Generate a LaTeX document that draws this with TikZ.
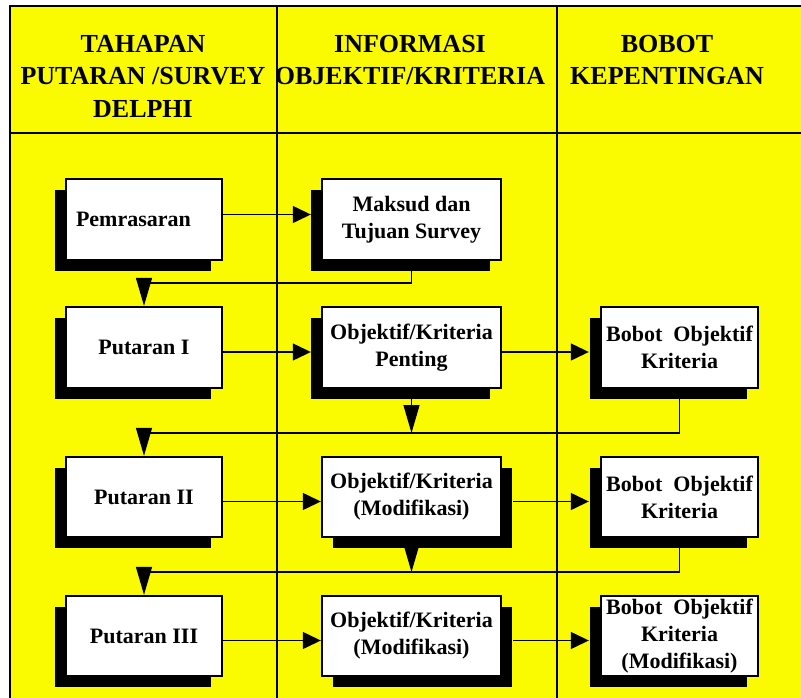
\documentclass[tikz,border=0pt]{standalone}
\usepackage{fontspec}
\setmainfont{Liberation Serif}
\usetikzlibrary{arrows.meta,shadows,calc}
\definecolor{sheet}{RGB}{250,250,0}
\newcommand{\hdfont}{\fontsize{26}{32.5}\selectfont\bfseries}
\newcommand{\bxfont}{\fontsize{22}{27}\selectfont\bfseries}
\pgfdeclarelayer{bg}
\pgfdeclarelayer{wires}
\pgfsetlayers{bg,wires,main}
\tikzset{
  grid/.style={line width=2.3pt, line cap=rect},
  head/.style={anchor=north, inner sep=0pt, align=center, font=\hdfont},
  box/.style={draw=black, line width=2.4pt, fill=white, inner xsep=2pt,
    inner ysep=0pt, align=center, font=\bxfont, minimum height=80pt},
  lshadow/.style={drop shadow={shadow xshift=-11pt, shadow yshift=-11pt,
    opacity=1, fill=black}},
  rshadow/.style={drop shadow={shadow xshift=11pt, shadow yshift=-11pt,
    opacity=1, fill=black}},
  wire/.style={line width=1.3pt},
  harrow/.style={wire, -{Triangle[length=18pt,width=17pt]}},
  varrow/.style={wire, -{Triangle[length=28pt,width=16pt]}},
}
\begin{document}
\begin{tikzpicture}[x=1pt,y=-1pt]
\useasboundingbox (0,0) rectangle (801,698);

% sheet and table rules
\begin{pgfonlayer}{bg}
  \fill[sheet] (10,6) rectangle (801,698);
  \draw[grid] (10,698) -- (10,6) -- (801,6);
  \draw[grid] (10,133) -- (801,133);
  \draw[grid] (277,6) -- (277,698);
  \draw[grid] (557,6) -- (557,698);
\end{pgfonlayer}

% column headings
\node[head] (h1) at (143,34.8) {TAHAPAN\\PUTARAN /SURVEY\\DELPHI};
\node[head] (h2) at (410,34.8) {INFORMASI\\OBJEKTIF/KRITERIA};
\node[head] (h3) at (667,34.8) {BOBOT\\KEPENTINGAN};

% rounds of the survey
\node[box, lshadow, minimum width=156pt, minimum height=81pt, text width=136pt, align=left]
  (pem) at (144,219.5) {Pemrasaran};
\node[box, lshadow, minimum width=156pt, minimum height=81pt] (put1) at (144,347.5) {Putaran I};
\node[box, lshadow, minimum width=156pt] (put2) at (144,497) {Putaran II};
\node[box, lshadow, minimum width=156pt] (put3) at (144,636) {Putaran III};

% objectives / criteria
\node[box, lshadow, minimum width=179pt, minimum height=81pt] (mak) at (411.5,219.5)
  {Maksud dan\\Tujuan Survey};
\node[box, lshadow, minimum width=179pt, minimum height=81pt] (pen) at (411.5,347.5)
  {Objektif/Kriteria\\Penting};
\node[box, rshadow, minimum width=179pt] (mod2) at (411.5,497)
  {Objektif/Kriteria\\(Modifikasi)};
\node[box, rshadow, minimum width=179pt] (mod3) at (411.5,636)
  {Objektif/Kriteria\\(Modifikasi)};

% weights
\node[box, lshadow, minimum width=157pt, minimum height=81pt] (bob1) at (679.5,347.5)
  {Bobot~~Objektif\\Kriteria};
\node[box, lshadow, minimum width=157pt] (bob2) at (679.5,497)
  {Bobot~~Objektif\\Kriteria};
\node[box, lshadow, minimum width=157pt] (bob3) at (679.5,636)
  {Bobot~~Objektif\\Kriteria\\(Modifikasi)};

% junction points of the feedback lines
\coordinate (r0) at (411.5,283);
\coordinate (r1) at (679.5,433);
\coordinate (r2) at (679.5,572);

\begin{pgfonlayer}{wires}
  % forward flow
  \draw[harrow] ([yshift=5pt]pem.east) -- ([yshift=5pt,xshift=-10pt]mak.west);
  \draw[harrow] ([yshift=-4.5pt]put1.east) -- ([yshift=-4.5pt,xshift=-10pt]pen.west);
  \draw[harrow] ([yshift=-4.5pt]pen.east) -- ([yshift=-4.5pt,xshift=-11pt]bob1.west);
  \draw[harrow] ([yshift=-4.5pt]put2.east) -- ([yshift=-4.5pt]mod2.west);
  \draw[harrow] ([yshift=-4.5pt,xshift=11pt]mod2.east) -- ([yshift=-4.5pt,xshift=-11pt]bob2.west);
  \draw[harrow] ([yshift=-4.5pt]put3.east) -- ([yshift=-4.5pt]mod3.west);
  \draw[harrow] ([yshift=-4.5pt,xshift=11pt]mod3.east) -- ([yshift=-4.5pt,xshift=-11pt]bob3.west);
  % feedback to the next round
  \draw[varrow] (mak.south) -- (r0) -| (put1.north);
  \draw[varrow] (bob1.south) -- (r1) -| (put2.north);
  \draw[varrow] (pen.south) -- (pen.south |- r1);
  \draw[varrow] (bob2.south) -- (r2) -| (put3.north);
  \draw[varrow] (mod2.south) -- (mod2.south |- r2);
\end{pgfonlayer}
\end{tikzpicture}
\end{document}
